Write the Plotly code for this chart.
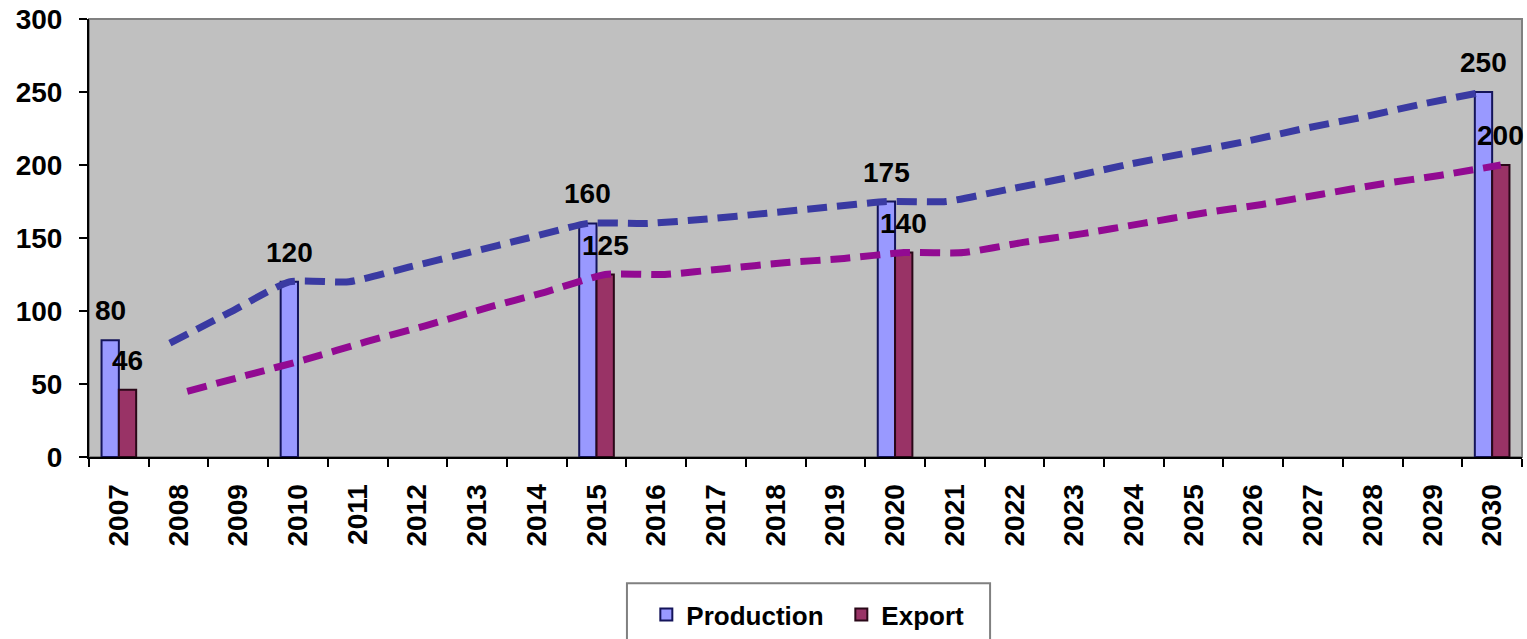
import plotly.graph_objects as go

# Category axis: every year from 2007 to 2030
years = [str(y) for y in range(2007, 2031)]

# Bar series (only the benchmark years carry values)
production_years = ["2007", "2010", "2015", "2020", "2030"]
production_vals = [80, 120, 160, 175, 250]
export_years = ["2007", "2015", "2020", "2030"]
export_vals = [46, 125, 140, 200]

# Dashed trend lines, one value per year from 2008 on
trend_years = [str(y) for y in range(2008, 2031)]
production_trend = [78, 99, 120, 120, 130, 140, 150, 160, 160, 163, 167, 171,
                    175, 175, 183, 191, 200, 208, 216, 225, 233, 242, 250]
export_trend = [45, 56, 67, 79, 90, 102, 113, 125, 125, 129, 133, 136,
                140, 140, 147, 153, 160, 167, 173, 180, 187, 193, 200]

BARGAP = 0.42
half = (1 - BARGAP) / 4  # offset of each bar centre from the category centre
FONT = "Liberation Sans, Arial, sans-serif"
TICK_FONT = dict(family=FONT, size=28, color="black", weight="bold")

idx = {y: i for i, y in enumerate(years)}

fig = go.Figure()

fig.add_trace(go.Bar(
    name="Production", x=production_years, y=production_vals,
    marker=dict(color="#9999FF", line=dict(color="#14145A", width=2)),
))
fig.add_trace(go.Bar(
    name="Export", x=export_years, y=export_vals,
    marker=dict(color="#993366", line=dict(color="#2A0818", width=2)),
))

# Trend lines on an overlaid numeric axis so they run through the bar tops
fig.add_trace(go.Scatter(
    x=[idx[y] - half for y in trend_years], y=production_trend, xaxis="x2",
    mode="lines", line=dict(color="#3A3AA2", width=7, dash="20px,10px",
                            shape="spline", smoothing=0.5),
    showlegend=False, hoverinfo="skip",
))
fig.add_trace(go.Scatter(
    x=[idx[y] + half for y in trend_years], y=export_trend, xaxis="x2",
    mode="lines", line=dict(color="#920A92", width=7, dash="20px,10px",
                            shape="spline", smoothing=0.5),
    showlegend=False, hoverinfo="skip",
))

# Value labels above each bar
annotations = []
for ys, vs, sign in ((production_years, production_vals, -1),
                     (export_years, export_vals, 1)):
    for y, v in zip(ys, vs):
        annotations.append(dict(
            x=idx[y] + sign * half, y=v, xref="x2", yref="y",
            text=str(v), showarrow=False, yanchor="bottom", yshift=12,
            font=dict(family=FONT, size=28, color="black", weight="bold"),
        ))

fig.update_layout(
    width=1527, height=639,
    margin=dict(l=89, r=5, t=19, b=181.5, autoexpand=False),
    paper_bgcolor="white", plot_bgcolor="#C0C0C0",
    barmode="group", bargap=BARGAP, bargroupgap=0,
    font=dict(family=FONT, size=26, color="black"),
    xaxis=dict(
        type="category", categoryorder="array", categoryarray=years,
        range=[-0.5, len(years) - 0.5], tickson="boundaries",
        ticks="outside", ticklen=8, tickwidth=1.5, tickcolor="black",
        tickangle=-90, ticklabelstandoff=14, automargin=False,
        tickfont=TICK_FONT,
        showline=True, linecolor="black", linewidth=2,
        showgrid=False, zeroline=False, fixedrange=True,
    ),
    xaxis2=dict(
        overlaying="x", range=[-0.5, len(years) - 0.5], visible=False,
    ),
    yaxis=dict(
        range=[0, 300], dtick=50, ticks="outside", ticklen=8,
        tickwidth=1.5, tickcolor="black", ticklabelstandoff=11,
        automargin=False, tickfont=TICK_FONT,
        showline=True, linecolor="black", linewidth=2,
        showgrid=False, zeroline=False,
    ),
    legend=dict(
        orientation="h", x=0.525, xanchor="center",
        yref="container", y=0.075, yanchor="top",
        font=dict(family=FONT, size=26, color="black", weight="bold"),
        bgcolor="rgba(0,0,0,0)", itemsizing="constant", entrywidth=150,
    ),
    annotations=annotations,
    shapes=[
        # plot-area frame
        dict(type="rect", xref="paper", yref="paper", x0=0, x1=1, y0=0, y1=1,
             line=dict(color="#808080", width=2), layer="below"),
        # legend frame
        dict(type="rect", xref="paper", yref="paper",
             x0=0.3754, x1=0.6288, y0=-0.2885, y1=-0.45,
             line=dict(color="#808080", width=2), layer="above"),
    ],
)

fig.write_html("out.html")
